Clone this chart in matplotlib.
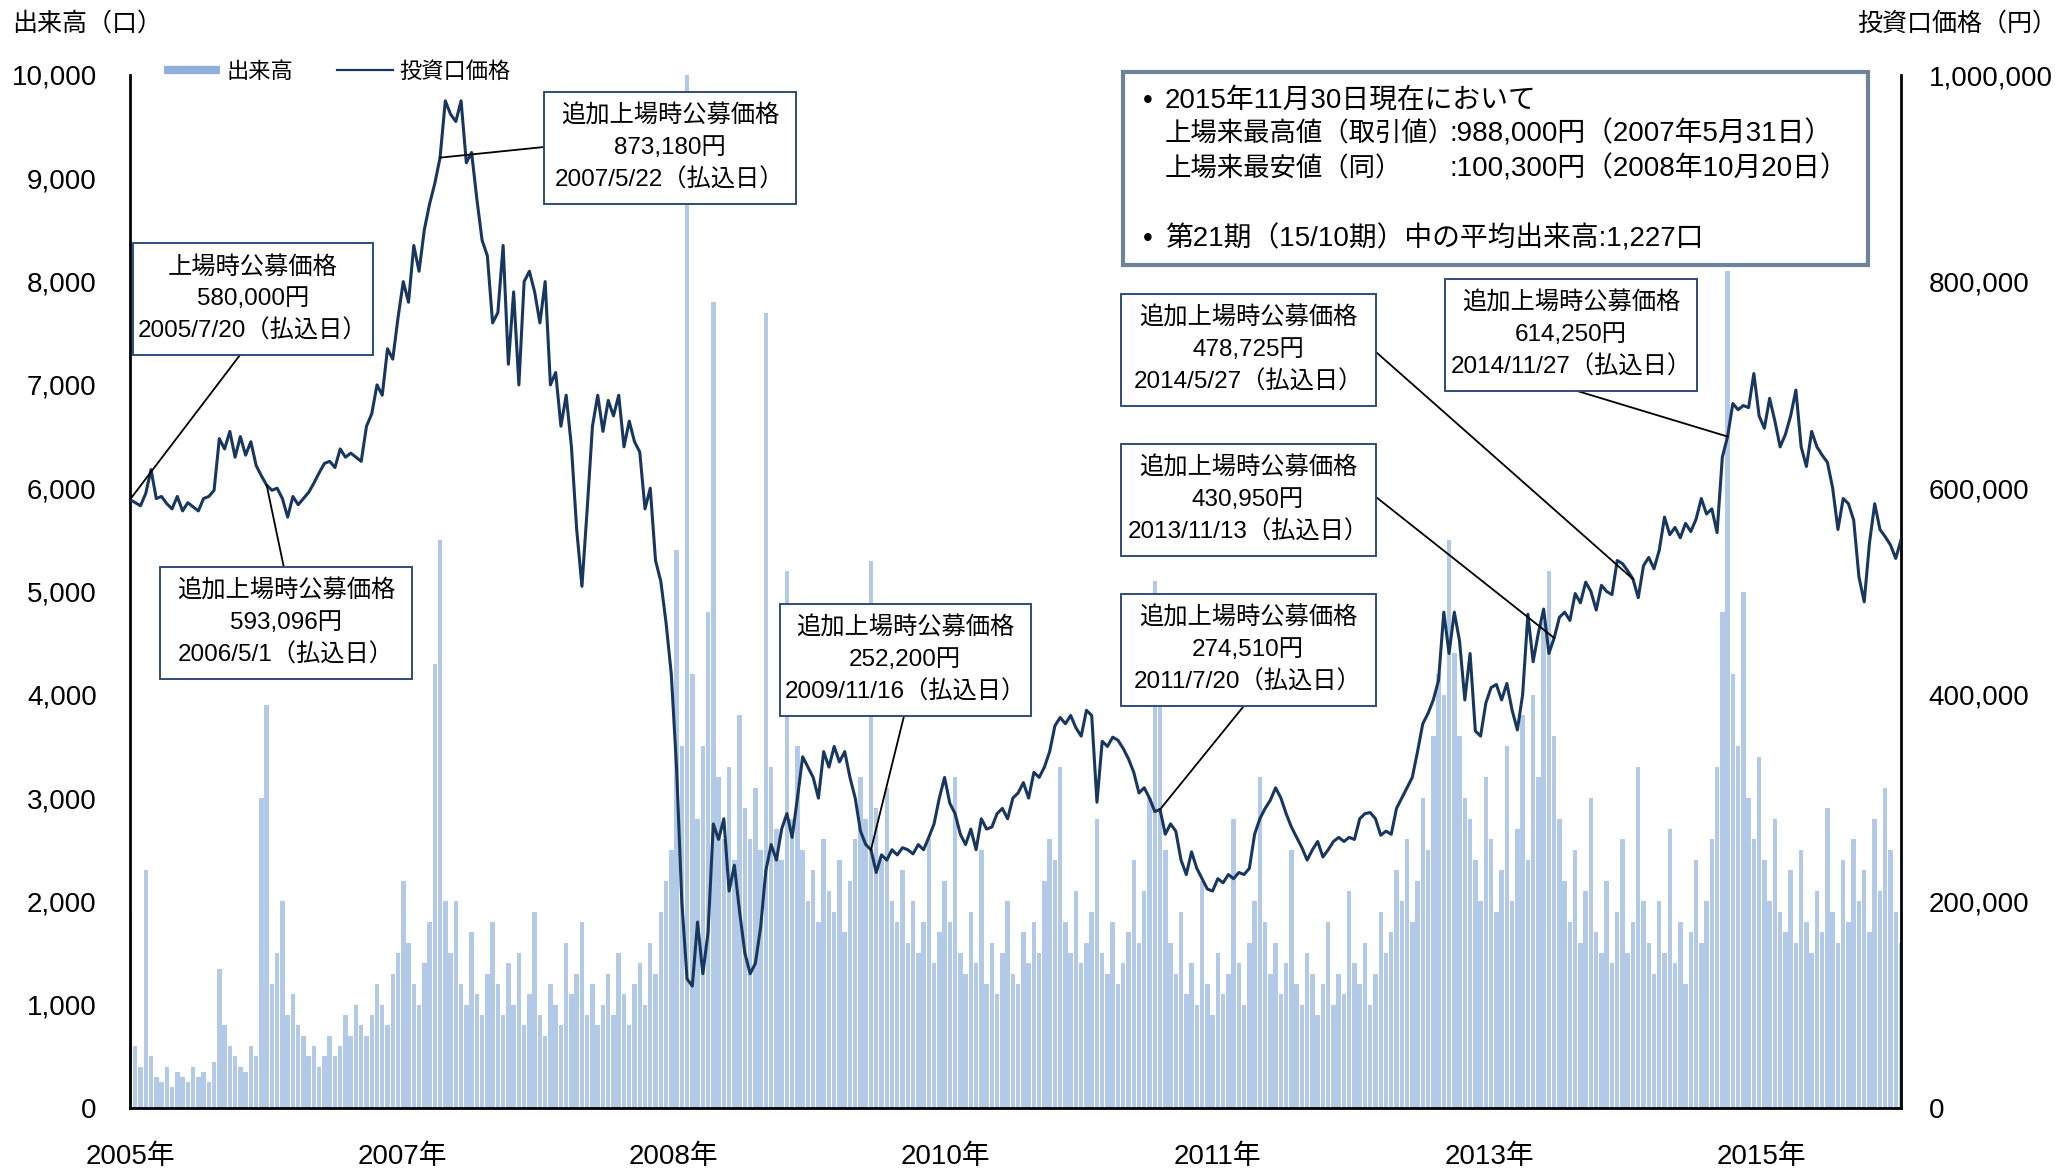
import numpy as np
import matplotlib
matplotlib.use("Agg")
from matplotlib import pyplot as plt
from matplotlib.lines import Line2D
from matplotlib.patches import Rectangle
from matplotlib.ticker import FuncFormatter, FixedLocator

plt.rcParams['font.family'] = ['Liberation Sans', 'Noto Sans CJK JP']

# 投資口価格 (千円), one reading every few trading days, 2005/7 - 2015/11
price = [
    # 2005 - 2006
    589, 586, 583, 595, 618, 590, 592, 585, 580, 592, 578, 586, 582, 578, 590, 592, 598,
    648, 638, 655, 630, 650, 632, 645, 622, 612, 603, 598, 600, 590, 572, 592,
    584, 590, 596, 605, 615, 624, 626, 620, 638, 630, 634, 630, 626,
    # 2007
    660, 672, 700, 690, 735, 725, 765, 800, 780, 835, 810, 850, 875, 895, 920, 975,
    962, 955, 975, 915, 925, 880, 840, 825, 760, 770, 835, 720,
    790, 700, 800, 810, 790, 760, 800, 700, 712, 660, 690, 640, 560, 505,
    580, 660, 690, 655, 685, 670, 690, 640, 665, 645, 635, 580, 600, 530, 510, 470, 420,
    # 2008 - 2009
    330, 200, 125, 118, 180, 130, 170, 275, 260, 280, 210, 235, 190, 150, 130,
    140, 175, 230, 255, 240, 270, 285, 262, 300, 340, 330, 320, 300, 345, 330, 350,
    335, 345, 320, 300, 268, 255, 250,
    228, 245, 240, 250, 245, 252, 250, 246, 255, 250, 262, 275, 300,
    # 2010
    320, 295, 285, 265, 255, 270, 250, 280, 270, 272, 285, 290, 280, 300, 305, 315,
    300, 325, 320, 330, 345,
    370, 378, 372, 380, 368, 360, 385, 380, 296, 355, 350, 359, 356, 348, 338, 325,
    305, 310, 300, 287,
    # 2011 - 2012
    289, 265, 275, 268, 240, 226, 248, 232, 222, 212, 210, 222, 218, 226, 222, 228, 226, 232, 265,
    280, 290, 298, 310, 300, 285, 272, 262, 252, 240, 250, 258, 243, 250, 258, 262, 258,
    262, 260, 280, 285, 286, 280, 264, 268, 265, 290,
    # 2013
    300, 310, 320, 345, 372, 382, 395, 414, 480, 440, 480, 452, 395, 440,
    365, 360, 392, 407, 410, 395, 411, 385, 366, 400, 478, 432, 460, 483, 440, 455,
    # 2014
    475, 480, 472, 498, 489, 509, 500, 482, 506, 500, 497, 530, 527, 520, 512, 494, 525,
    533, 522, 540, 572, 555, 562, 552, 566, 558, 570, 590, 575, 580, 557, 630,
    # 2015
    650, 682, 676, 680, 678, 711, 670, 658, 687, 665, 640, 652, 670, 695, 640, 621, 655,
    640, 632, 625, 600, 560, 590, 585, 569, 514, 490, 547, 585, 560, 553, 545, 532, 550,
]

# 出来高 (口), same sampling as price
volume = [
    1900, 600, 400, 2300, 500, 300, 250, 400, 200, 350, 300, 250, 400, 300, 350, 250, 450,
    1350, 800, 600, 500, 400, 350, 600, 500, 3000, 3900, 1200, 1500, 2000, 900, 1100,
    800, 700, 500, 600, 400, 500, 700, 500, 600, 900, 700, 1000, 800,
    700, 900, 1200, 1000, 800, 1300, 1500, 2200, 1600, 1200, 1000, 1400, 1800, 4300, 5500, 2000,
    1500, 2000, 1200, 1000, 1700, 1100, 900, 1300, 1800, 1200, 900, 1400,
    1000, 1500, 800, 1100, 1900, 900, 700, 1200, 1000, 800, 1600, 1100, 1300, 1800,
    900, 1200, 800, 1000, 1300, 900, 1500, 1100, 800, 1200, 1400, 1000, 1600, 1300, 1900, 2200, 2500,
    5400, 3500, 10000, 4200, 2800, 3500, 4800, 7800, 3200, 2600, 3300, 2400, 3800, 2900, 2600,
    3100, 2500, 7700, 3300, 2700, 2400, 5200, 2800, 3500, 2500, 2000, 2300, 1800, 2600, 2100, 1900,
    2400, 1700, 2200, 2600, 3200, 2800, 5300,
    2900, 2400, 3100, 2000, 1800, 2300, 1600, 2000, 1500, 1800, 2600, 1400, 1700,
    2200, 1800, 3200, 1500, 1300, 1900, 1400, 2500, 1200, 1600, 1100, 1500, 2000, 1300, 1200, 1700,
    1400, 1800, 1500, 2200, 2600,
    2400, 3300, 1800, 1500, 2100, 1400, 1600, 1900, 2800, 1500, 1300, 1800, 1200, 1400, 1700, 2400,
    1600, 2100, 3000, 5100,
    4000, 2500, 1600, 1300, 1900, 1100, 1400, 1000, 2200, 1200, 900, 1500, 1100, 1300, 2800, 1400, 1000, 1600, 2000,
    3200, 1800, 1300, 1600, 1100, 1400, 2500, 1200, 1000, 1500, 1300, 900, 1200, 1800, 1000, 1300,
    1100, 2100, 1400, 1200, 1600, 1000, 1300, 1900, 1500, 1700, 2300,
    2000, 2600, 1800, 2200, 3000, 2500, 3600, 4200, 4000, 5500, 4400, 3600, 3000, 2800,
    2400, 2000, 3200, 2600, 1900, 2300, 3500, 2000, 2700, 3800, 2400, 4000, 3200, 4700, 5200, 3600,
    2800, 2200, 1800, 2500, 1600, 2100, 3000, 1700, 1500, 2200, 1400, 1900, 2600, 1500, 1800, 3300, 2000,
    1600, 1300, 2000, 1500, 2700, 1400, 1800, 1200, 1700, 2400, 1600, 2000, 2600, 3300, 4800,
    8100, 4200, 3500, 5000, 3000, 2600, 3400, 2400, 2000, 2800, 1900, 1700, 2300, 1600, 2500, 1800,
    1500, 2100, 1700, 2900, 1900, 1600, 2400, 1800, 2600, 2000, 2300, 1700, 2800, 2100, 3100, 2500,
    1900, 1600,
]

year_labels = ["2005年", "2007年", "2008年", "2010年", "2011年", "2013年", "2015年"]
label_step = 51.75  # samples between year labels

# 公募価格 annotations: text lines and the sample they point at
ann_texts = [
    ("上場時公募価格", "580,000円", "2005/7/20（払込日）"),
    ("追加上場時公募価格", "593,096円", "2006/5/1（払込日）"),
    ("追加上場時公募価格", "873,180円", "2007/5/22（払込日）"),
    ("追加上場時公募価格", "252,200円", "2009/11/16（払込日）"),
    ("追加上場時公募価格", "274,510円", "2011/7/20（払込日）"),
    ("追加上場時公募価格", "430,950円", "2013/11/13（払込日）"),
    ("追加上場時公募価格", "478,725円", "2014/5/27（払込日）"),
    ("追加上場時公募価格", "614,250円", "2014/11/27（払込日）"),
]
ann_index = [0, 26, 59, 141, 196, 271, 286, 304]

# box centre / width and leader start, in figure pixels from top-left
ann_box = [(253, 299, 240), (286, 623, 252), (670, 148, 252), (905, 660, 251),
           (1248, 650, 255), (1248, 500, 255), (1248, 350, 255), (1571, 335, 252)]
ann_anchor = [(240, 355), (284, 568), (544, 147), (904, 716),
              (1243, 707), (1376, 497), (1376, 352), (1574, 390)]

W, H = 2060, 1170
NAVY = '#17375e'


def fxy(px, py):
    return px / W, 1 - py / H


fig = plt.figure(figsize=(W / 100, H / 100), dpi=100)
ax = fig.add_axes([130 / W, 1 - 1108 / H, (1901 - 130) / W, (1108 - 75) / H])
ax2 = ax.twinx()

x = np.arange(len(price))
ax.bar(x, volume, width=0.85, color='#b2c9e8', linewidth=0)
ax2.plot(x, np.array(price) * 1000, color=NAVY, lw=2.2, zorder=3)

ax.set_xlim(0, len(price) - 1)
ax.set_ylim(0, 10000)
ax2.set_ylim(0, 1000000)

# ticks and spines
ax.xaxis.set_major_locator(FixedLocator([k * label_step for k in range(len(year_labels))]))
ax.set_xticklabels(year_labels)
ax.set_yticks(np.arange(0, 10001, 1000))
ax2.set_yticks(np.arange(0, 1000001, 200000))
fmt = FuncFormatter(lambda v, p: f"{int(v):,}")
ax.yaxis.set_major_formatter(fmt)
ax2.yaxis.set_major_formatter(fmt)
ax.tick_params(axis='x', length=0, labelsize=20, pad=26)
ax.tick_params(axis='y', length=0, labelsize=20, pad=24)
ax2.tick_params(axis='y', length=0, labelsize=20, pad=20)

for a in (ax, ax2):
    a.spines['top'].set_visible(False)
    for s in ('left', 'right', 'bottom'):
        a.spines[s].set_linewidth(2.0)
        a.spines[s].set_color('black')
ax.spines['right'].set_visible(False)
ax2.spines['left'].set_visible(False)
ax2.spines['bottom'].set_visible(False)

# axis titles
fig.text(*fxy(12, 24), "出来高（口）", fontsize=18, ha='left', va='center')
fig.text(*fxy(2057, 24), "投資口価格（円）", fontsize=18, ha='right', va='center')

# legend
handles = [Line2D([], [], color='#8eb0dc', lw=6, solid_capstyle='butt'),
           Line2D([], [], color=NAVY, lw=1.6)]
fig.legend(handles, ["出来高", "投資口価格"], loc='center left',
           bbox_to_anchor=fxy(164, 72), ncol=2, frameon=False, fontsize=16,
           handlelength=2.5, handletextpad=0.3, columnspacing=2.0,
           borderpad=0, borderaxespad=0)

# annotation boxes and leader lines
for lines, idx, (cx, cy, bw), (lx, ly) in zip(ann_texts, ann_index, ann_box, ann_anchor):
    ax2.annotate("", xy=(idx, price[idx] * 1000), xycoords='data',
                 xytext=fxy(lx, ly), textcoords='figure fraction',
                 arrowprops=dict(arrowstyle='-', color='black', lw=1.3,
                                 shrinkA=0, shrinkB=0),
                 annotation_clip=False)
    bh = 112
    x0, y0 = fxy(cx - bw / 2, cy + bh / 2)
    fig.add_artist(Rectangle((x0, y0), bw / W, bh / H, transform=fig.transFigure,
                             facecolor='white', edgecolor='#2e4d7b', lw=1.4, zorder=5))
    for k, s in enumerate(lines):
        fig.text(*fxy(cx, cy + (k - 1) * 32), s, fontsize=17.5, ha='center',
                 va='center', zorder=6)

# summary box
x0, y0 = fxy(1123, 265)
fig.add_artist(Rectangle((x0, y0), (1868 - 1123) / W, (265 - 72) / H,
                         transform=fig.transFigure, facecolor='white',
                         edgecolor='#6f829c', lw=3.0, zorder=5))
txt = dict(ha='left', va='center', zorder=6)
fig.text(*fxy(1143, 101), "•", fontsize=20, **txt)
fig.text(*fxy(1165, 101), "2015年11月30日現在において", fontsize=20, **txt)
fig.text(*fxy(1165, 134), "上場来最高値（取引値）", fontsize=19, **txt)
fig.text(*fxy(1450, 134), ":988,000円（2007年5月31日）", fontsize=20, **txt)
fig.text(*fxy(1165, 169), "上場来最安値（同）", fontsize=19, **txt)
fig.text(*fxy(1450, 169), ":100,300円（2008年10月20日）", fontsize=20, **txt)
fig.text(*fxy(1143, 239), "•", fontsize=20, **txt)
fig.text(*fxy(1165, 239), "第21期（15/10期）中の平均出来高:1,227口", fontsize=20, **txt)

fig.savefig("out.png", dpi=100)
